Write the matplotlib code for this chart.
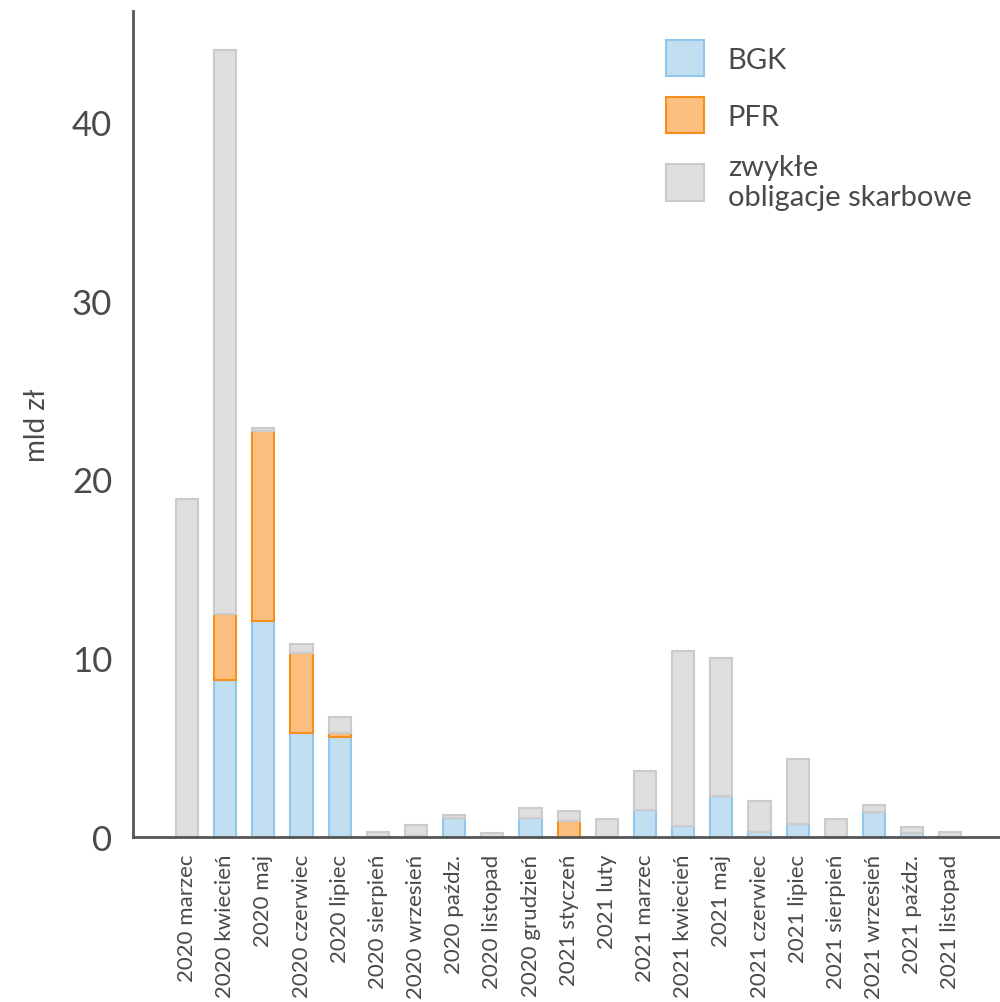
import matplotlib
matplotlib.use("Agg")
import matplotlib.pyplot as plt
import numpy as np

plt.rcParams['font.family'] = ['Lato', 'DejaVu Sans']

# Months on the x axis
months = ["2020 marzec", "2020 kwiecień", "2020 maj", "2020 czerwiec", "2020 lipiec",
          "2020 sierpień", "2020 wrzesień", "2020 paźdz.", "2020 listopad", "2020 grudzień",
          "2021 styczeń", "2021 luty", "2021 marzec", "2021 kwiecień", "2021 maj",
          "2021 czerwiec", "2021 lipiec", "2021 sierpień", "2021 wrzesień", "2021 paźdz.",
          "2021 listopad"]

# values in mld zł
bgk = [0.0, 8.8, 12.1, 5.8, 5.6, 0.0, 0.05, 1.05, 0.0, 1.05,
       0.0, 0.0, 1.5, 0.6, 2.3, 0.3, 0.7, 0.0, 1.4, 0.2, 0.0]
pfr = [0.0, 3.7, 10.6, 4.5, 0.2, 0.0, 0.0, 0.0, 0.0, 0.0,
       0.9, 0.0, 0.0, 0.0, 0.0, 0.0, 0.0, 0.0, 0.0, 0.0, 0.0]
zwykle = [18.9, 31.5, 0.15, 0.5, 0.9, 0.3, 0.6, 0.2, 0.2, 0.6,
          0.55, 1.0, 2.2, 9.8, 7.7, 1.7, 3.65, 1.0, 0.4, 0.35, 0.3]

TEXT = "#4a4a4a"

fig = plt.figure(figsize=(10.0, 10.03), dpi=100)
ax = fig.add_axes([0.133, 0.1645, 0.867, 0.8235])

x = np.arange(len(months))
w = 0.58
bottom2 = np.array(bgk) + np.array(pfr)

ax.bar(x, bgk, w, color="#c2dff2", edgecolor="#92c6ec", linewidth=1.5, label="BGK")
ax.bar(x, pfr, w, bottom=bgk, color="#fdbf7f", edgecolor="#f5901f", linewidth=1.5, label="PFR")
ax.bar(x, zwykle, w, bottom=bottom2, color="#dedede", edgecolor="#cbcbcb", linewidth=1.5,
       label="zwykłe\nobligacje skarbowe")

ax.set_xlim(-1.415, 21.3)
ax.set_ylim(0, 46.2)
ax.set_yticks([0, 10, 20, 30, 40])
ax.set_xticks(x)
ax.set_xticklabels(months, rotation=90, fontsize=16, color=TEXT)
ax.tick_params(axis="y", length=0, pad=15, labelsize=25, labelcolor=TEXT)
ax.tick_params(axis="x", length=0, pad=12)
ax.set_ylabel("mld zł", fontsize=20, color=TEXT, labelpad=16)

for s in ["top", "right"]:
    ax.spines[s].set_visible(False)
for s in ["left", "bottom"]:
    ax.spines[s].set_color("#555555")
    ax.spines[s].set_linewidth(2)

leg = ax.legend(loc="upper left", bbox_to_anchor=(0.585, 0.997), frameon=False,
                fontsize=21, handlelength=1.3, handleheight=1.55, handletextpad=0.8,
                labelspacing=0.7, labelcolor=TEXT)

fig.savefig("out.png", dpi=100)
